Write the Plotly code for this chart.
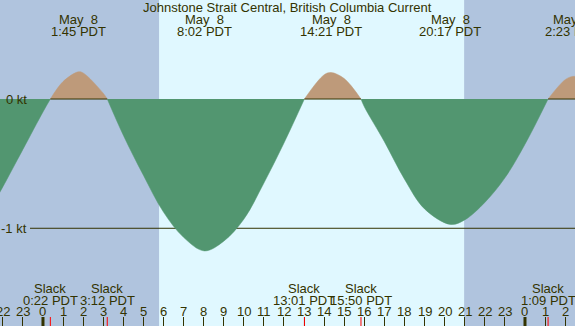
import plotly.graph_objects as go

# ---------------- data ----------------
station = "Johnstone Strait Central, British Columbia Current"

# current speed (kt); hours relative to May 8 00:00 PDT
hours = [-2.2, -2, -1, 0, 0.367, 1, 1.75, 2, 3, 3.2, 4, 5, 6, 7, 8.033, 9, 10, 11, 12,
         13.017, 14, 14.35, 15, 15.833, 16, 17, 18, 19, 20.283, 21, 22, 23, 24, 25.15,
         26, 26.383, 26.6]
current_kt = [-0.735, -0.68, -0.39, -0.10, 0, 0.135, 0.21, 0.202, 0.045, 0, -0.28, -0.59,
              -0.875, -1.07, -1.175, -1.10, -0.93, -0.65, -0.34, 0, 0.188, 0.205, 0.158,
              0, -0.06, -0.33, -0.62, -0.85, -0.97, -0.935, -0.80, -0.61, -0.35, 0, 0.15,
              0.175, 0.172]

max_times = [1.75, 8.033, 14.35, 20.283, 26.383]
max_dates = ["May\u00a0\u00a08", "May\u00a0\u00a08", "May\u00a0\u00a08", "May\u00a0\u00a08", "May\u00a0\u00a09"]
max_labels = ["1:45 PDT", "8:02 PDT", "14:21 PDT", "20:17 PDT", "2:23 PDT"]

slack_times = [0.367, 3.2, 13.017, 15.833, 25.15]
slack_labels = ["0:22 PDT", "3:12 PDT", "13:01 PDT", "15:50 PDT", "1:09 PDT"]

sunrise_sunset = [5.78, 20.97]
midnights = [0, 24]

tick_hours = [-2, -1, 0, 1, 2, 3, 4, 5, 6, 7, 8, 9, 10, 11, 12, 13, 14, 15, 16, 17, 18,
              19, 20, 21, 22, 23, 24, 25, 26]
tick_labels = ["22", "23", "0", "1", "2", "3", "4", "5", "6", "7", "8", "9", "10", "11",
               "12", "13", "14", "15", "16", "17", "18", "19", "20", "21", "22", "23",
               "0", "1", "2"]

kt_levels = [0, -1]
kt_labels = ["0 kt", "-1 kt"]

# ---------------- style ----------------
W, H = 575, 326
FG = "#333300"
NIGHT = "#B0C4DE"
DAY = "#E0F8FF"
EBB = "#529670"
FLOOD = "#BE9A7A"
FONT = dict(family="Liberation Sans, Arial, sans-serif", size=13, color=FG)
X_RANGE = [-2.14, 26.49]
Y_RANGE = [-1.756, 0.766]

def py(px):  # pixel-from-top -> paper fraction
    return 1 - px / H

# ---------------- split into flood / ebb segments at slack points ----------------
segments = []
sx, sy = [], []
for h, v in zip(hours, current_kt):
    sx.append(h)
    sy.append(v)
    if v == 0 and len(sx) > 1:
        segments.append((sx, sy))
        sx, sy = [h], [v]
if len(sx) > 1:
    segments.append((sx, sy))

fig = go.Figure()
for seg_x, seg_y in segments:
    flood = max(seg_y, key=abs) > 0
    col = FLOOD if flood else EBB
    fig.add_trace(go.Scatter(x=seg_x, y=seg_y, mode="lines", fill="tozeroy",
                             fillcolor=col, line=dict(color=col, width=0.5, shape="spline"),
                             hoverinfo="skip", showlegend=False))
# the zero line shows only beneath the flood areas (ebb fill hides it)
for seg_x, seg_y in segments:
    if max(seg_y, key=abs) > 0:
        fig.add_trace(go.Scatter(x=[seg_x[0], seg_x[-1]], y=[0, 0], mode="lines",
                                 line=dict(color=FG, width=1), hoverinfo="skip",
                                 showlegend=False))

shapes = [dict(type="rect", xref="x", yref="paper", x0=sunrise_sunset[0],
               x1=sunrise_sunset[1], y0=0, y1=1, fillcolor=DAY, line_width=0,
               layer="below")]
for lvl in kt_levels:
    if lvl != 0:
        shapes.append(dict(type="line", xref="paper", yref="y", x0=30 / W, x1=1, y0=lvl,
                           y1=lvl, line=dict(color=FG, width=1), layer="below"))
for m in midnights:
    shapes.append(dict(type="line", xref="x", yref="paper", x0=m, x1=m, y0=0,
                       y1=9 / H, line=dict(color=FG, width=3)))
for s in slack_times:
    shapes.append(dict(type="line", xref="x", yref="paper", x0=s, x1=s, y0=0,
                       y1=9 / H, line=dict(color="red", width=1)))

ann = [dict(text=station, xref="paper", yref="paper", x=0.5, y=py(8), showarrow=False,
            xanchor="center", yanchor="middle", font=FONT)]
for t, d, lab in zip(max_times, max_dates, max_labels):
    ann.append(dict(text=d, x=t, xref="x", yref="paper", y=py(20), showarrow=False,
                    xanchor="center", yanchor="middle", font=FONT))
    ann.append(dict(text=lab, x=t, xref="x", yref="paper", y=py(31.5), showarrow=False,
                    xanchor="center", yanchor="middle", font=FONT))
for t, lab in zip(slack_times, slack_labels):
    ann.append(dict(text="Slack", x=t, xref="x", yref="paper", y=py(288), showarrow=False,
                    xanchor="center", yanchor="middle", font=FONT))
    ann.append(dict(text=lab, x=t, xref="x", yref="paper", y=py(300), showarrow=False,
                    xanchor="center", yanchor="middle", font=FONT))
for t, lab in zip(tick_hours, tick_labels):
    ann.append(dict(text=lab, x=t, xref="x", yref="paper", y=py(311), showarrow=False,
                    xanchor="center", yanchor="middle", font=FONT))
for lvl, lab in zip(kt_levels, kt_labels):
    ann.append(dict(text=lab, x=28.5 / W, xref="paper", yref="y", y=lvl, showarrow=False,
                    xanchor="right", yanchor="middle", font=FONT))

fig.update_layout(
    width=W, height=H, margin=dict(l=0, r=0, t=0, b=0),
    paper_bgcolor=NIGHT, plot_bgcolor=NIGHT,
    xaxis=dict(range=X_RANGE, showgrid=False, zeroline=False, showticklabels=False,
               ticks="inside", tickvals=tick_hours, ticklen=9, tickcolor=FG, tickwidth=1,
               showline=False, fixedrange=True),
    yaxis=dict(range=Y_RANGE, visible=False, showgrid=False, zeroline=False,
               fixedrange=True),
    shapes=shapes, annotations=ann, showlegend=False,
)

fig.write_html("out.html", config={"displayModeBar": False},
               post_script="document.body.style.margin='0';document.body.style.overflow='hidden';")
